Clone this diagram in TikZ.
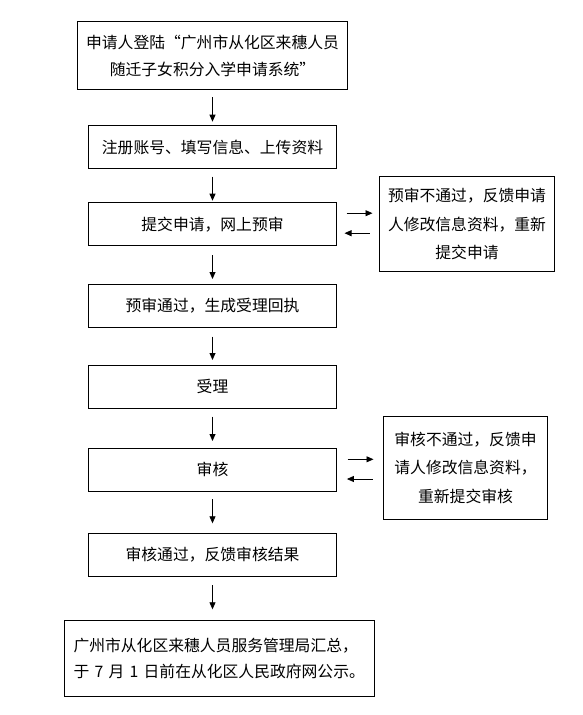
\documentclass[tikz,border=0pt]{standalone}
\usepackage{fontspec}
\newfontfamily\zhfont{Noto Sans CJK SC}
\usepackage{tikz}
\usetikzlibrary{arrows.meta,positioning,calc}
\tikzset{
    rect/.style={
        rectangle,
        fill = white,
        draw=black,
        line width=0.8pt,
        align=center,
        minimum width=248pt,
        minimum height=43pt,
        inner sep=0pt,
        outer sep=0pt,
        font=\zhfont\fontsize{15.8pt}{27pt}\selectfont
        },
    rectw/.style={ %first box, wider
        rect,
        minimum width=270pt,
        minimum height=67.6pt
        },
    rectl/.style={ %last box, left aligned
        rect,
        align=left,
        text width=292pt,
        inner xsep=9pt,
        minimum height=75.3pt,
        font=\zhfont\fontsize{15.8pt}{25.5pt}\selectfont
        },
    rects/.style={ %side boxes
        rect,
        font=\zhfont\fontsize{15.8pt}{28.5pt}\selectfont
        },
    arrout/.style={
        -{Triangle[length=7pt,width=6pt]},
        line width=0.8pt
        }
}

\begin{document}
\begin{tikzpicture}[x=1pt,y=-1pt]
\useasboundingbox (0,0) rectangle (582,715);

%%%%% node n1
\node[rectw] (n1) at (212.5,55.5) {申请人登陆“广州市从化区来穗人员\\随迁子女积分入学申请系统”};

%%%%% node n2
\node[rect, below=36.4pt of n1] (n2) {注册账号、填写信息、上传资料};

%%%%% node n3
\node[rect, below=34pt of n2] (n3) {提交申请，网上预审};

%%%%% node n4
\node[rect, below=38.6pt of n3] (n4) {预审通过，生成受理回执};

%%%%% node n5
\node[rect, below=38pt of n4] (n5) {受理};

%%%%% node n6
\node[rect, below=40pt of n5] (n6) {审核};

%%%%% node n7
\node[rect, below=42pt of n6] (n7) {审核通过，反馈审核结果};

%%%%% node n8
\node[rectl, below=44.4pt of n7, xshift=7pt] (n8) {广州市从化区来穗人员服务管理局汇总，\\于 7 月 1 日前在从化区人民政府网公示。};

%%%%% side box r1
\node[rects, right=43pt of n3, minimum width=175pt, minimum height=95pt] (r1)
{预审不通过，反馈申请\\人修改信息资料，重新\\提交申请};

%%%%% side box r2
\node[rects, right=47pt of n6, yshift=2pt, minimum width=164pt, minimum height=103pt] (r2)
{审核不通过，反馈申\\请人修改信息资料，\\重新提交审核};

%%%%% arrows down the column
\draw[arrout, shorten <=8pt, shorten >=4pt] (n1) -- (n2);
\draw[arrout, shorten <=8pt, shorten >=2pt] (n2) -- (n3);
\draw[arrout, shorten <=9.3pt, shorten >=5.3pt] (n3) -- (n4);
\draw[arrout, shorten <=9.4pt, shorten >=5.3pt] (n4) -- (n5);
\draw[arrout, shorten <=8.4pt, shorten >=7.3pt] (n5) -- (n6);
\draw[arrout, shorten <=7.7pt, shorten >=10pt] (n6) -- (n7);
\draw[arrout, shorten <=8.7pt, shorten >=11.4pt] (n7.south) -- (n7.south |- n8.north);

%%%%% arrows n3 <-> r1
\draw[arrout] ($(n3.east)+(10pt,11pt)$) -- ($(n3.east -| r1.west)+(-7pt,11pt)$);
\draw[arrout] ($(n3.east -| r1.west)+(-10pt,-9pt)$) -- ($(n3.east)+(8pt,-9pt)$);

%%%%% arrows n6 <-> r2
\draw[arrout] ($(n6.east)+(11pt,10.5pt)$) -- ($(n6.east -| r2.west)+(-10pt,10.5pt)$);
\draw[arrout] ($(n6.east -| r2.west)+(-11pt,-9.2pt)$) -- ($(n6.east)+(10.4pt,-9.2pt)$);

\end{tikzpicture}
\end{document}
